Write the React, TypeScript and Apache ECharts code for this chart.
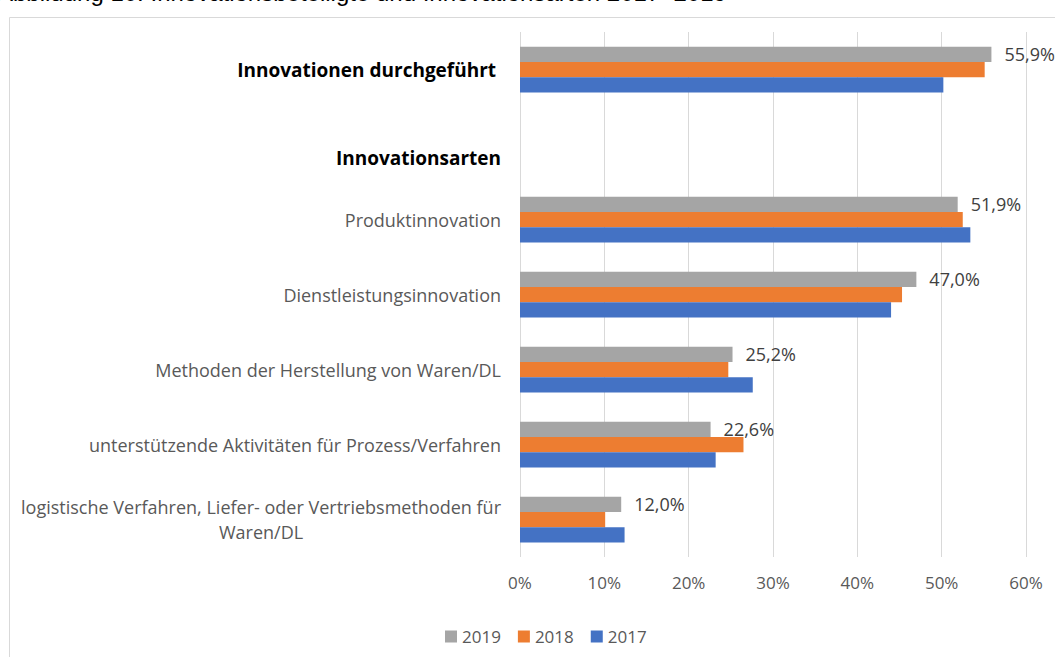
import React, { useEffect, useRef } from "react";
import * as echarts from "echarts";

const categories = [
  "Innovationen durchgeführt",
  "Innovationsarten",
  "Produktinnovation",
  "Dienstleistungsinnovation",
  "Methoden der Herstellung von Waren/DL",
  "unterstützende Aktivitäten für Prozess/Verfahren",
  "logistische Verfahren, Liefer- oder Vertriebsmethoden für\nWaren/DL",
];
const years = ["2019", "2018", "2017"];
const values2019: (number | null)[] = [55.9, null, 51.9, 47.0, 25.2, 22.6, 12.0];
const values2018: (number | null)[] = [55.1, null, 52.5, 45.3, 24.7, 26.5, 10.1];
const values2017: (number | null)[] = [50.2, null, 53.4, 44.0, 27.6, 23.2, 12.4];
const xTicks = [0, 10, 20, 30, 40, 50, 60];
const colors = ["#A5A5A5", "#ED7D31", "#4472C4"];
const titleText = "Abbildung 10: Innovationsbeteiligte und Innovationsarten 2017–2019";

export default function App() {
  const ref = useRef<HTMLDivElement>(null);
  useEffect(() => {
    if (!ref.current) return;
    const chart = echarts.init(ref.current, null, { renderer: "svg" });
    const font = "'Open Sans', 'Noto Sans', sans-serif";
    const seriesData = [values2019, values2018, values2017];
    chart.setOption({
      animation: false,
      textStyle: { fontFamily: font },
      graphic: [
        {
          type: "rect",
          shape: { x: 9.5, y: 17.5, width: 1200, height: 800 },
          style: { fill: "none", stroke: "#D9D9D9", lineWidth: 1 },
          silent: true,
        },
        {
          type: "text",
          x: -3,
          y: -20,
          style: {
            text: titleText,
            fontFamily: "'Liberation Sans', Arial, sans-serif",
            fontSize: 24,
            fill: "#000000",
          },
          silent: true,
        },
      ],
      grid: { left: 520, right: 29, top: 32, bottom: 100, containLabel: false },
      legend: {
        data: years,
        left: 440,
        top: 623,
        itemWidth: 12,
        itemHeight: 12,
        itemGap: 17,
        icon: "rect",
        textStyle: { color: "#595959", fontSize: 17, fontFamily: font },
      },
      xAxis: {
        type: "value",
        min: 0,
        max: 60,
        interval: 10,
        axisLine: { show: false },
        axisTick: { show: false },
        splitLine: { show: true, lineStyle: { color: "#D9D9D9", width: 1 } },
        axisLabel: {
          color: "#595959",
          fontSize: 17,
          fontFamily: font,
          margin: 17,
          formatter: (v: number) => (xTicks.includes(v) ? v + "%" : ""),
        },
      },
      yAxis: {
        type: "category",
        inverse: true,
        data: categories,
        axisLine: { show: false },
        axisTick: { show: false },
        axisLabel: {
          margin: 19,
          interval: 0,
          formatter: (v: string, i: number) => {
            if (i === 0) return "{b|" + v + " }";
            if (i === 1) return "{h|" + v + "}";
            return v
              .split("\n")
              .map((l) => "{n|" + l + "}")
              .join("\n");
          },
          rich: {
            b: { fontWeight: "bold", color: "#000000", fontSize: 19, fontFamily: font },
            h: {
              fontWeight: "bold",
              color: "#000000",
              fontSize: 19,
              fontFamily: font,
              padding: [26, 0, 0, 0],
            },
            n: { color: "#595959", fontSize: 18, fontFamily: font, align: "center", lineHeight: 25 },
          },
        },
      },
      series: years.map((y, k) => ({
        name: y,
        type: "bar",
        data: seriesData[k],
        barGap: "0%",
        barCategoryGap: "39%",
        itemStyle: { color: colors[k] },
        label:
          k === 0
            ? {
                show: true,
                position: "right",
                distance: 13,
                color: "#404040",
                fontSize: 18,
                fontFamily: font,
                formatter: (p: any) => p.value.toFixed(1).replace(".", ",") + "%",
              }
            : { show: false },
      })),
    });
    return () => chart.dispose();
  }, []);
  return (
    <div
      ref={ref}
      style={{ position: "fixed", left: 0, top: 0, width: 1055, height: 657, background: "#fff" }}
    />
  );
}
